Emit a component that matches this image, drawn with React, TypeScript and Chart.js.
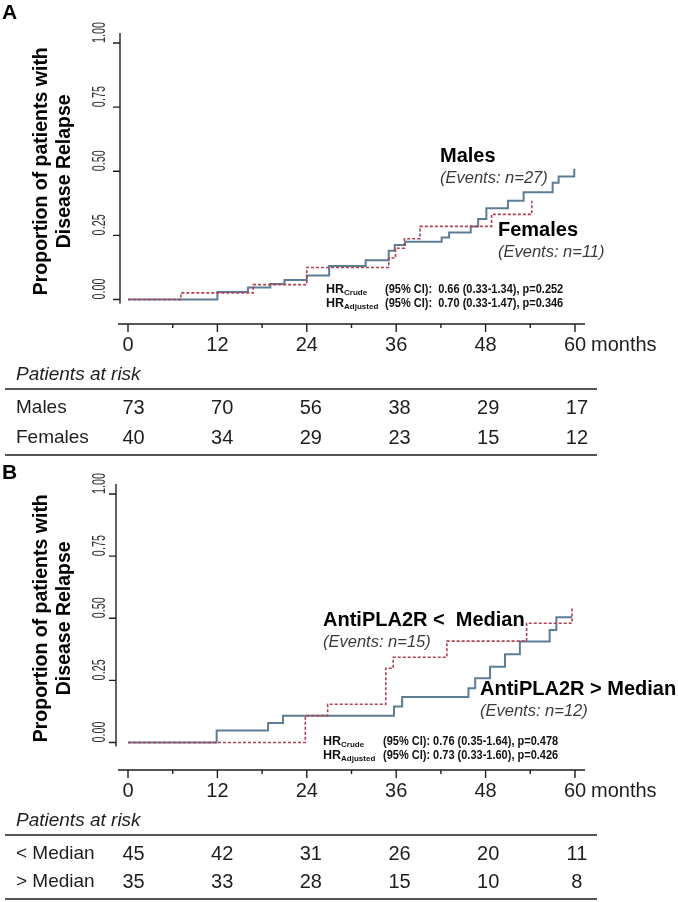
import { useEffect, useRef } from 'react';
import { Chart, registerables } from 'chart.js';

Chart.register(...registerables);

// ---- data ----
const axisMonths = [0, 12, 24, 36, 48, 60];
const minorMonths = [6, 18, 30, 42, 54];
const yTickValues = [0, 0.25, 0.5, 0.75, 1];
const yTickLabels = ['0.00', '0.25', '0.50', '0.75', '1.00'];

// Panel A: sex
const maleMonths = [0, 12.0, 16.1, 19.1, 21.0, 24.0, 27.0, 31.9, 35.0, 35.8, 37.2, 42.1, 43.1, 46.0, 47.0, 48.1, 51.0, 53.1, 57.0, 57.8, 59.9];
const maleRelapse = [0, 0.029, 0.047, 0.06, 0.076, 0.094, 0.131, 0.153, 0.19, 0.212, 0.225, 0.242, 0.261, 0.285, 0.314, 0.356, 0.385, 0.418, 0.455, 0.48, 0.51];
const femaleMonths = [0, 7.1, 16.8, 24.0, 35.0, 35.9, 37.1, 39.2, 48.8, 54.2];
const femaleRelapse = [0, 0.026, 0.058, 0.125, 0.162, 0.2, 0.237, 0.285, 0.332, 0.385];
const malesAtRisk = [73, 70, 56, 38, 29, 17];
const femalesAtRisk = [40, 34, 29, 23, 15, 12];

// Panel B: anti-PLA2R titre
const belowMonths = [0, 23.8, 26.8, 34.6, 35.6, 42.8, 53.5, 59.6];
const belowRelapse = [0, 0.108, 0.154, 0.299, 0.343, 0.408, 0.48, 0.54];
const aboveMonths = [0, 11.9, 18.8, 20.8, 35.7, 36.8, 45.7, 46.6, 48.6, 50.6, 52.6, 56.6, 57.5, 59.6];
const aboveRelapse = [0, 0.048, 0.078, 0.108, 0.145, 0.183, 0.218, 0.259, 0.305, 0.355, 0.406, 0.453, 0.504, 0.504];
const belowAtRisk = [45, 42, 31, 26, 20, 11];
const aboveAtRisk = [35, 33, 28, 15, 10, 8];

const SOLID = '#5d7d97';
const DASHED = '#b0404f';
const INK = '#1e1e1e';
const FONT = '"Liberation Sans", Arial, sans-serif';

const toPoints = (xs: number[], ys: number[]) => xs.map((x, i) => ({ x, y: ys[i] }));

interface Label {
  title: string;
  events: string;
  x: number;
  y: number;
}

interface Panel {
  letter: string;
  height: number;
  plotTop: number;
  plotBottom: number;
  yAxisX: number;
  xAxisY: number;
  rowGap: number;
  solid: { x: number; y: number }[];
  dashed: { x: number; y: number }[];
  labels: Label[];
  hrX: number;
  statX: number;
  hrY: number;
  hrRows: { sub: string; stat: string }[];
  riskRows: { name: string; values: number[] }[];
}

function decor(p: Panel) {
  return {
    id: 'kmDecor' + p.letter,
    afterDraw(chart: any) {
      const ctx: CanvasRenderingContext2D = chart.ctx;
      const xs = chart.scales.x;
      const ys = chart.scales.y;
      ctx.save();
      ctx.textBaseline = 'middle';

      // panel letter
      ctx.fillStyle = '#000';
      ctx.font = `bold 21px ${FONT}`;
      ctx.textAlign = 'left';
      ctx.fillText(p.letter, 2, 13);

      // y axis title
      const midY = (ys.getPixelForValue(0) + ys.getPixelForValue(1)) / 2;
      ctx.save();
      ctx.translate(0, midY);
      ctx.rotate(-Math.PI / 2);
      ctx.textAlign = 'center';
      ctx.font = `bold 19.5px ${FONT}`;
      ctx.fillText('Proportion of patients with', 0, 42);
      ctx.fillText('Disease Relapse', 0, 65);
      ctx.restore();

      // y axis
      ctx.strokeStyle = INK;
      ctx.lineWidth = 1.4;
      ctx.beginPath();
      ctx.moveTo(p.yAxisX, ys.getPixelForValue(1) - 10);
      ctx.lineTo(p.yAxisX, ys.getPixelForValue(0) + 4);
      yTickValues.forEach((v) => {
        const py = ys.getPixelForValue(v);
        ctx.moveTo(p.yAxisX, py);
        ctx.lineTo(p.yAxisX - 7, py);
      });
      ctx.stroke();
      ctx.fillStyle = '#333';
      ctx.font = `18px ${FONT}`;
      yTickValues.forEach((v, i) => {
        const py = ys.getPixelForValue(v);
        ctx.save();
        ctx.translate(100, py);
        ctx.rotate(-Math.PI / 2);
        ctx.scale(0.6, 1);
        ctx.textAlign = 'left';
        ctx.fillText(yTickLabels[i], 0, 0);
        ctx.restore();
      });

      // x axis
      const ax = p.xAxisY;
      ctx.beginPath();
      ctx.moveTo(xs.getPixelForValue(0) - 10, ax);
      ctx.lineTo(xs.getPixelForValue(60) + 10, ax);
      axisMonths.forEach((m) => {
        const px = xs.getPixelForValue(m);
        ctx.moveTo(px, ax);
        ctx.lineTo(px, ax + 8);
      });
      minorMonths.forEach((m) => {
        const px = xs.getPixelForValue(m);
        ctx.moveTo(px, ax);
        ctx.lineTo(px, ax + 4);
      });
      ctx.stroke();
      ctx.fillStyle = INK;
      ctx.font = `20px ${FONT}`;
      ctx.textAlign = 'center';
      axisMonths.forEach((m) => ctx.fillText(String(m), xs.getPixelForValue(m), ax + 21));
      ctx.textAlign = 'left';
      ctx.fillText('months', xs.getPixelForValue(60) + 16, ax + 21);

      // at-risk table
      ctx.font = `italic 19px ${FONT}`;
      ctx.fillText('Patients at risk', 16, ax + 51);
      ctx.strokeStyle = '#555';
      ctx.lineWidth = 1.8;
      ctx.beginPath();
      ctx.moveTo(5, ax + 65);
      ctx.lineTo(597, ax + 65);
      ctx.moveTo(5, ax + 84 + p.rowGap + 17);
      ctx.lineTo(597, ax + 84 + p.rowGap + 17);
      ctx.stroke();
      p.riskRows.forEach((row, r) => {
        const ry = ax + 84 + r * p.rowGap;
        ctx.font = `19px ${FONT}`;
        ctx.textAlign = 'left';
        ctx.fillText(row.name, 16, ry);
        ctx.font = `20px ${FONT}`;
        ctx.textAlign = 'center';
        row.values.forEach((n, i) => {
          const m = axisMonths[i];
          ctx.fillText(String(n), xs.getPixelForValue(m) + 5.5 - m * 0.06, ry);
        });
      });

      // curve labels
      ctx.textAlign = 'left';
      p.labels.forEach((l) => {
        ctx.fillStyle = '#000';
        ctx.font = `bold 20px ${FONT}`;
        ctx.fillText(l.title, l.x, l.y);
        ctx.fillStyle = '#3a3a3a';
        ctx.font = `italic 16.5px ${FONT}`;
        ctx.fillText(l.events, l.x, l.y + 22);
      });

      // hazard ratios
      ctx.fillStyle = '#111';
      p.hrRows.forEach((h, i) => {
        const hy = p.hrY + i * 14;
        ctx.font = `bold 12.5px ${FONT}`;
        ctx.fillText('HR', p.hrX, hy);
        const w = ctx.measureText('HR').width;
        ctx.font = `bold 8px ${FONT}`;
        ctx.fillText(h.sub, p.hrX + w, hy + 3);
        ctx.save();
        ctx.translate(p.statX, hy);
        ctx.scale(0.88, 1);
        ctx.font = `bold 12.5px ${FONT}`;
        ctx.fillText(h.stat, 0, 0);
        ctx.restore();
      });

      ctx.restore();
    },
  };
}

function KmPanel({ panel }: { panel: Panel }) {
  const canvasRef = useRef<HTMLCanvasElement>(null);
  const chartRef = useRef<Chart | null>(null);

  useEffect(() => {
    if (!canvasRef.current) return;
    if (chartRef.current) chartRef.current.destroy();

    chartRef.current = new Chart(canvasRef.current, {
      type: 'line',
      data: {
        datasets: [
          {
            data: panel.dashed,
            borderColor: DASHED,
            borderWidth: 1.6,
            borderDash: [3, 2],
            stepped: 'before',
            pointRadius: 0,
            clip: false,
          },
          {
            data: panel.solid,
            borderColor: SOLID,
            borderWidth: 2,
            stepped: 'before',
            pointRadius: 0,
            clip: false,
          },
        ],
      },
      options: {
        responsive: false,
        animation: false,
        parsing: false,
        layout: {
          padding: {
            left: 128,
            right: 678 - 575,
            top: panel.plotTop,
            bottom: panel.height - panel.plotBottom,
          },
        },
        scales: {
          x: { type: 'linear', min: 0, max: 60, display: false },
          y: { type: 'linear', min: 0, max: 1, display: false },
        },
        plugins: {
          legend: { display: false },
          tooltip: { enabled: false },
        },
      },
      plugins: [decor(panel)],
    });

    return () => {
      if (chartRef.current) {
        chartRef.current.destroy();
        chartRef.current = null;
      }
    };
  }, [panel]);

  return <canvas ref={canvasRef} width={678} height={panel.height} style={{ display: 'block' }} />;
}

const panelA: Panel = {
  letter: 'A',
  height: 460,
  plotTop: 43,
  plotBottom: 299.5,
  yAxisX: 120,
  xAxisY: 324,
  rowGap: 30,
  solid: toPoints(maleMonths, maleRelapse),
  dashed: toPoints(femaleMonths, femaleRelapse),
  labels: [
    { title: 'Males', events: '(Events: n=27)', x: 440, y: 156 },
    { title: 'Females', events: '(Events: n=11)', x: 498, y: 230 },
  ],
  hrX: 326,
  statX: 385,
  hrY: 290,
  hrRows: [
    { sub: 'Crude', stat: '(95% CI):  0.66 (0.33-1.34), p=0.252' },
    { sub: 'Adjusted', stat: '(95% CI):  0.70 (0.33-1.47), p=0.346' },
  ],
  riskRows: [
    { name: 'Males', values: malesAtRisk },
    { name: 'Females', values: femalesAtRisk },
  ],
};

const panelB: Panel = {
  letter: 'B',
  height: 442,
  plotTop: 34,
  plotBottom: 282.5,
  yAxisX: 116,
  xAxisY: 310,
  rowGap: 28,
  solid: toPoints(aboveMonths, aboveRelapse),
  dashed: toPoints(belowMonths, belowRelapse),
  labels: [
    { title: 'AntiPLA2R <  Median', events: '(Events: n=15)', x: 323, y: 160 },
    { title: 'AntiPLA2R > Median', events: '(Events: n=12)', x: 480, y: 229 },
  ],
  hrX: 323,
  statX: 383,
  hrY: 281.5,
  hrRows: [
    { sub: 'Crude', stat: '(95% CI): 0.76 (0.35-1.64), p=0.478' },
    { sub: 'Adjusted', stat: '(95% CI): 0.73 (0.33-1.60), p=0.426' },
  ],
  riskRows: [
    { name: '< Median', values: belowAtRisk },
    { name: '> Median', values: aboveAtRisk },
  ],
};

export default function App() {
  return (
    <div style={{ position: 'absolute', left: 0, top: 0, width: 678, height: 902, background: '#fff' }}>
      <KmPanel panel={panelA} />
      <KmPanel panel={panelB} />
    </div>
  );
}
